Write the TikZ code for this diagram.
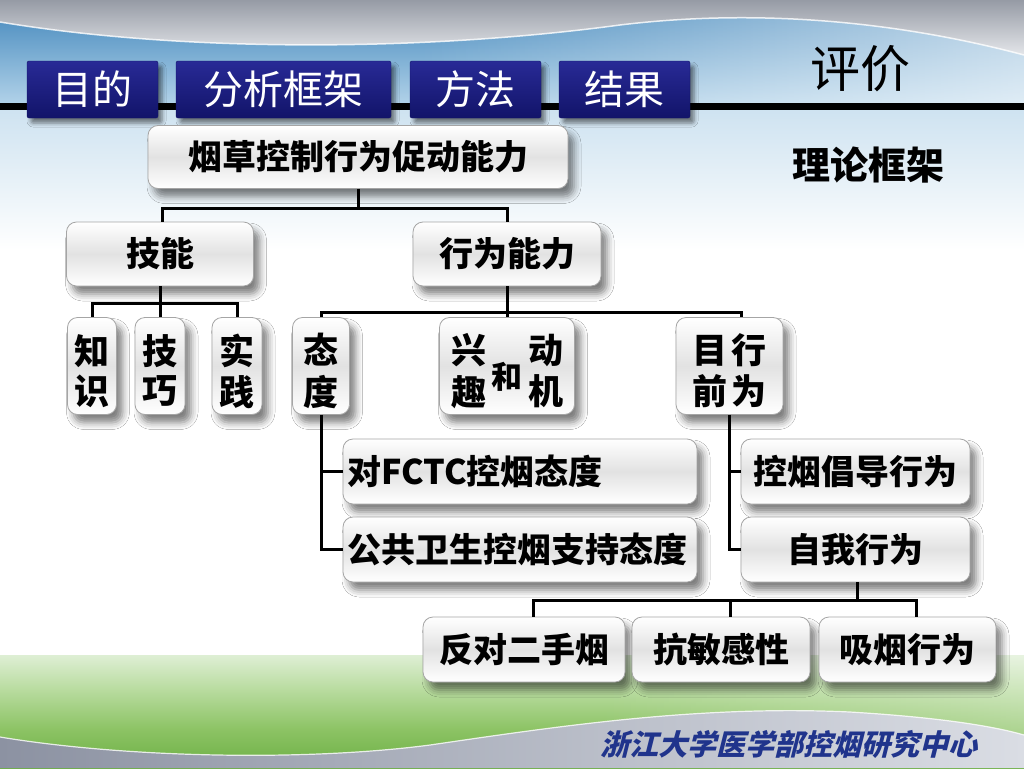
\documentclass[tikz,border=0pt]{standalone}
\usepackage{fontspec}
\newfontfamily\cjk{Noto Sans CJK SC}
\usetikzlibrary{shadows.blur,fadings}
\definecolor{skytop}{RGB}{62,132,186}
\definecolor{skybot}{RGB}{180,212,234}
\definecolor{skylow}{RGB}{205,226,240}
\definecolor{silvtop}{RGB}{150,155,165}
\definecolor{silvbot}{RGB}{228,230,234}
\definecolor{silvL}{RGB}{140,146,162}
\definecolor{silvR}{RGB}{218,221,228}
\definecolor{grassA}{RGB}{80,150,45}
\definecolor{grassB}{RGB}{100,170,60}
\definecolor{grassC}{RGB}{140,195,100}
\definecolor{grassD}{RGB}{185,220,160}
\definecolor{grassE}{RGB}{235,245,230}
\definecolor{tabtop}{RGB}{40,42,150}
\definecolor{tabbot}{RGB}{18,20,105}
\definecolor{boxline}{RGB}{165,165,165}
\definecolor{boxmid}{RGB}{226,226,226}
\definecolor{footblue}{RGB}{32,52,140}
\pgfdeclareverticalshading{grass}{100bp}{color(0bp)=(grassA); color(20bp)=(grassB); color(42bp)=(grassC); color(60bp)=(grassD); color(80bp)=(grassE); color(100bp)=(white)}
\newcommand{\vtxt}[1]{\raisebox{-9pt}[\height][\depth]{#1}}
\tikzset{
  box/.style={draw=boxline, line width=0.8pt, rounded corners=10pt,
    top color=white, bottom color=white, middle color=boxmid,
    blur shadow={shadow xshift=6pt, shadow yshift=-8pt, shadow blur radius=7pt, shadow opacity=50},
    inner sep=0pt, font=\cjk\bfseries\fontsize{34}{38}\selectfont, text=black},
  vbox/.style={box, minimum height=97, font=\cjk\bfseries\fontsize{35}{37}\selectfont},
  tab/.style={rounded corners=2pt, top color=tabtop, bottom color=tabbot, draw=tabbot,
    blur shadow={shadow xshift=4pt, shadow yshift=-5pt, shadow blur radius=4pt, shadow opacity=50},
    minimum height=57, inner sep=0pt, font=\cjk\fontsize{40}{44}\selectfont, text=white},
  conn/.style={line width=3pt, black}
}
\begin{document}
\begin{tikzpicture}[x=1pt,y=-1pt]
\useasboundingbox (0,0) rectangle (1024,768);
\fill[white] (0,0) rectangle (1024,768);
% sky
\shade[top color=skytop, bottom color=skybot] (0,0) rectangle (1024,106);
\fill[white, path fading=west, fill opacity=0.6] (420,0) rectangle (1024,106);
\shade[top color=skylow, bottom color=white] (0,106) rectangle (1024,250);
% silver top wave
\shade[top color=silvtop, bottom color=silvbot] (0,0) -- (0,22) .. controls (180,52) and (420,52) .. (620,25) .. controls (760,8) and (900,22) .. (1024,55) -- (1024,0) -- cycle;
\draw[white, line width=1.5pt, opacity=0.8] (0,22) .. controls (180,52) and (420,52) .. (620,25) .. controls (760,8) and (900,22) .. (1024,55);
% black rule
\fill[black] (0,103) rectangle (1024,110);
% grass
\shade[shading=grass] (0,655) rectangle (1024,768);
\fill[white, path fading=west, fill opacity=0.3] (600,655) rectangle (1024,768);
% silver bottom wave
\shade[left color=silvL, right color=silvR] (0,737) .. controls (120,757) and (300,762) .. (430,745) .. controls (560,726) and (700,705) .. (850,712) .. controls (950,718) and (1000,728) .. (1024,735) -- (1024,768) -- (0,768) -- cycle;
\draw[white, line width=1.2pt, opacity=0.8] (0,737) .. controls (120,757) and (300,762) .. (430,745) .. controls (560,726) and (700,705) .. (850,712) .. controls (950,718) and (1000,728) .. (1024,735);

% tabs
\node[tab, minimum width=131] (t1) at (92.5,89.5) {目的};
\node[tab, minimum width=215] (t2) at (283.5,89.5) {分析框架};
\node[tab, minimum width=131] (t3) at (475.5,89.5) {方法};
\node[tab, minimum width=131] (t4) at (624.5,89.5) {结果};
\node[font=\cjk\fontsize{50}{54}\selectfont, text=black] (pj) at (860,69) {评价};
\node[font=\cjk\bfseries\fontsize{38}{42}\selectfont, text=black] (ll) at (868,165) {理论框架};

% nodes
\node[box, minimum width=420, minimum height=63] (root) at (358,157) {烟草控制行为促动能力};
\node[box, minimum width=187, minimum height=64] (jn) at (160,254) {技能};
\node[box, minimum width=188, minimum height=64] (xw) at (507,254) {行为能力};
\node[vbox, minimum width=49] (zs) at (92,366) {\vtxt{\begin{tabular}{@{}c@{}}知\\识\end{tabular}}};
\node[vbox, minimum width=50] (jq) at (160,366) {\vtxt{\begin{tabular}{@{}c@{}}技\\巧\end{tabular}}};
\node[vbox, minimum width=50] (sj) at (237,366) {\vtxt{\begin{tabular}{@{}c@{}}实\\践\end{tabular}}};
\node[vbox, minimum width=57] (td) at (321,366) {\vtxt{\begin{tabular}{@{}c@{}}态\\度\end{tabular}}};
\node[vbox, minimum width=135] (xq) at (507,366) {\vtxt{\begin{tabular}{@{}c@{}}兴\\趣\end{tabular}\hspace{5pt}\raisebox{-7pt}{\fontsize{31}{33}\selectfont 和}\hspace{6pt}\begin{tabular}{@{}c@{}}动\\机\end{tabular}}};
\node[vbox, minimum width=107] (mq) at (729.5,366) {\vtxt{\begin{tabular}{@{}c@{\hspace{4pt}}c@{}}目&行\\前&为\end{tabular}}};
\node[box, minimum width=354, minimum height=65, text width=346, align=left] (fctc) at (520,471.5) {对FCTC控烟态度};
\node[box, minimum width=354, minimum height=65, text width=346, align=left] (ggws) at (520,549.5) {公共卫生控烟支持态度};
\node[box, minimum width=229, minimum height=65] (kydd) at (855.5,471.5) {控烟倡导行为};
\node[box, minimum width=229, minimum height=65] (zwxw) at (855.5,549.5) {自我行为};
\node[box, minimum width=202, minimum height=65] (fd) at (524,649.5) {反对二手烟};
\node[box, minimum width=178, minimum height=65] (km) at (721,649.5) {抗敏感性};
\node[box, minimum width=177, minimum height=65] (xy) at (907.5,649.5) {吸烟行为};

% connectors
\draw[conn] (root.south) -- ++(0,20) -| ([xshift=2]jn.north);
\draw[conn] (root.south) -- ++(0,20) -| (xw.north);
\draw[conn] (jn.south) -- ++(0,17) -| (zs.north);
\draw[conn] (jn.south) -- (jq.north);
\draw[conn] (jn.south) -- ++(0,17) -| (sj.north);
\draw[conn] (xw.south) -- ++(0,26) -| (td.north);
\draw[conn] (xw.south) -- (xq.north);
\draw[conn] (xw.south) -- ++(0,26) -| ([xshift=12]mq.north);
\draw[conn] (td.south) |- (fctc.west);
\draw[conn] (td.south) |- (ggws.west);
\draw[conn] (mq.south) |- (kydd.west);
\draw[conn] (mq.south) |- (zwxw.west);
\draw[conn] ([xshift=1.5]zwxw.south) -- ++(0,18) -| ([xshift=9]fd.north);
\draw[conn] ([xshift=1.5]zwxw.south) -- ++(0,18) -| ([xshift=9]km.north);
\draw[conn] ([xshift=1.5]zwxw.south) -- ++(0,18) -| ([xshift=9]xy.north);

% footer
\node[font=\cjk\bfseries\fontsize{29}{32}\selectfont\addfontfeature{FakeSlant=0.25}, text=footblue] (ft) at (789,744) {浙江大学医学部控烟研究中心};
\end{tikzpicture}
\end{document}
